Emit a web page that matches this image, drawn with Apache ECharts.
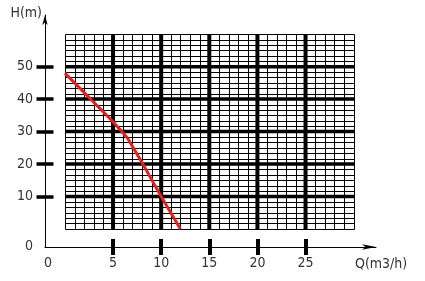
<!DOCTYPE html>
<html><head><meta charset="utf-8">
<script src="https://cdn.jsdelivr.net/npm/echarts@6/dist/echarts.min.js"></script>
<style>html,body{margin:0;padding:0;background:#fff}#c{width:425px;height:281px}</style>
</head><body><div id="c"></div>
<script>
// ---- data ----
var curveQ = [0, 5, 6.5, 8, 10, 12];
var curveH = [48, 33, 28, 20.5, 10, 0];
var xTickValues = [5, 10, 15, 20, 25];
var xTickLabels = ['0', '5', '10', '15', '20', '25'];
var yTickValues = [10, 20, 30, 40, 50];
var yTickLabels = ['0', '10', '20', '30', '40', '50'];
var gridQRange = [0, 30];
var gridHRange = [0, 60];
var minorQStep = 1, majorQEvery = 5;
var minorHStep = 10 / 6, majorHEvery = 6;

// ---- layout (axis extents / label anchor positions) ----
var xMin = -2.07, xMax = 32.32;
var yMin = -5.58, yMax = 65.92;
var xLabelPos = [-1.76, 5, 10, 15, 20, 25];
var yLabelPos = [-5.5, 10, 20, 30, 40, 50];
var FONT = '"Liberation Sans Narrow", "DejaVu Sans Condensed", "Liberation Sans", sans-serif';

var vLines = [], hLines = [];
var nQ = Math.round((gridQRange[1] - gridQRange[0]) / minorQStep);
for (var i = 0; i <= nQ; i++) {
  vLines.push([gridQRange[0] + i * minorQStep, (i % majorQEvery === 0 && i > 0 && i < nQ) ? 1 : 0]);
}
var nH = Math.round((gridHRange[1] - gridHRange[0]) / minorHStep);
for (var j = 0; j <= nH; j++) {
  hLines.push([gridHRange[0] + j * minorHStep, (j % majorHEvery === 0 && j > 0 && j < nH) ? 1 : 0]);
}
var curve = curveQ.map(function (q, k) { return [q, curveH[k]]; });

function findIdx(arr, v) {
  for (var k = 0; k < arr.length; k++) if (Math.abs(arr[k] - v) < 1e-6) return k;
  return -1;
}

var chart = echarts.init(document.getElementById('c'), null, {renderer: 'canvas'});
chart.setOption({
  animation: false,
  backgroundColor: '#fff',
  grid: {left: 45, right: 49, top: 15, bottom: 34},
  xAxis: [{
    type: 'value', min: xMin, max: xMax, position: 'bottom',
    axisLine: {show: true, onZero: false, symbol: ['none', 'arrow'], symbolSize: [4, 14], lineStyle: {color: '#000', width: 1}},
    axisTick: {show: true, customValues: xTickValues, length: 8, lineStyle: {color: '#000', width: 4}},
    axisLabel: {customValues: xLabelPos, margin: 9, fontSize: 14, fontFamily: FONT, color: '#333',
      formatter: function (v) { return xTickLabels[findIdx(xLabelPos, v)]; }},
    splitLine: {show: false},
    name: 'Q(m3/h)', nameLocation: 'end', nameGap: -21,
    nameTextStyle: {fontSize: 14, fontFamily: FONT, color: '#333', align: 'left', verticalAlign: 'top', lineHeight: 14, padding: [10, 0, 0, 0]}
  }, {
    type: 'value', min: xMin, max: xMax, position: 'bottom',
    axisLine: {show: false, onZero: false},
    axisTick: {show: true, inside: true, customValues: xTickValues, length: 8, lineStyle: {color: '#000', width: 4}},
    axisLabel: {show: false}, splitLine: {show: false}
  }],
  yAxis: [{
    type: 'value', min: yMin, max: yMax, position: 'left',
    axisLine: {show: true, onZero: false, symbol: ['none', 'arrow'], symbolSize: [4, 10], lineStyle: {color: '#000', width: 1}},
    axisTick: {show: true, customValues: yTickValues, length: 8.5, lineStyle: {color: '#000', width: 3.5}},
    axisLabel: {customValues: yLabelPos, margin: 12, fontSize: 14, fontFamily: FONT, color: '#333', padding: [0, 0, 6, 0],
      formatter: function (v) { return yTickLabels[findIdx(yLabelPos, v)]; }},
    splitLine: {show: false},
    name: 'H(m)', nameLocation: 'end', nameGap: 2,
    nameTextStyle: {fontSize: 14, fontFamily: FONT, color: '#333', align: 'right', verticalAlign: 'middle', padding: [0, 3, 0, 0]}
  }, {
    type: 'value', min: yMin, max: yMax, position: 'left',
    axisLine: {show: false, onZero: false},
    axisTick: {show: true, inside: true, customValues: yTickValues, length: 8.5, lineStyle: {color: '#000', width: 3.5}},
    axisLabel: {show: false}, splitLine: {show: false}
  }],
  series: [{
    type: 'custom', xAxisIndex: 0, yAxisIndex: 0, z: 2, silent: true,
    encode: {x: 0},
    data: vLines,
    renderItem: function (params, api) {
      var q = api.value(0), m = api.value(1);
      var a = api.coord([q, gridHRange[0]]), b = api.coord([q, gridHRange[1]]);
      var x = m ? a[0] : Math.round(a[0]) + 0.5;
      return {type: 'line', z2: m ? 2 : 1, shape: {x1: x, y1: Math.round(a[1]) + 0.5, x2: x, y2: Math.round(b[1]) + 0.5},
        style: {stroke: '#000', lineWidth: m ? 4 : 1}};
    }
  }, {
    type: 'custom', xAxisIndex: 0, yAxisIndex: 0, z: 2, silent: true,
    encode: {y: 0},
    data: hLines,
    renderItem: function (params, api) {
      var h = api.value(0), m = api.value(1);
      var a = api.coord([gridQRange[0], h]), b = api.coord([gridQRange[1], h]);
      var y = m ? a[1] : Math.round(a[1]) + 0.5;
      return {type: 'line', z2: m ? 2 : 1, shape: {x1: Math.round(a[0]) + 0.5, y1: y, x2: Math.round(b[0]) + 0.5, y2: y},
        style: {stroke: '#000', lineWidth: m ? 3.5 : 1}};
    }
  }, {
    type: 'line', xAxisIndex: 0, yAxisIndex: 0, z: 5, silent: true,
    data: curve, symbol: 'none',
    lineStyle: {color: '#e0231d', width: 3}
  }]
});
</script>
</body></html>
